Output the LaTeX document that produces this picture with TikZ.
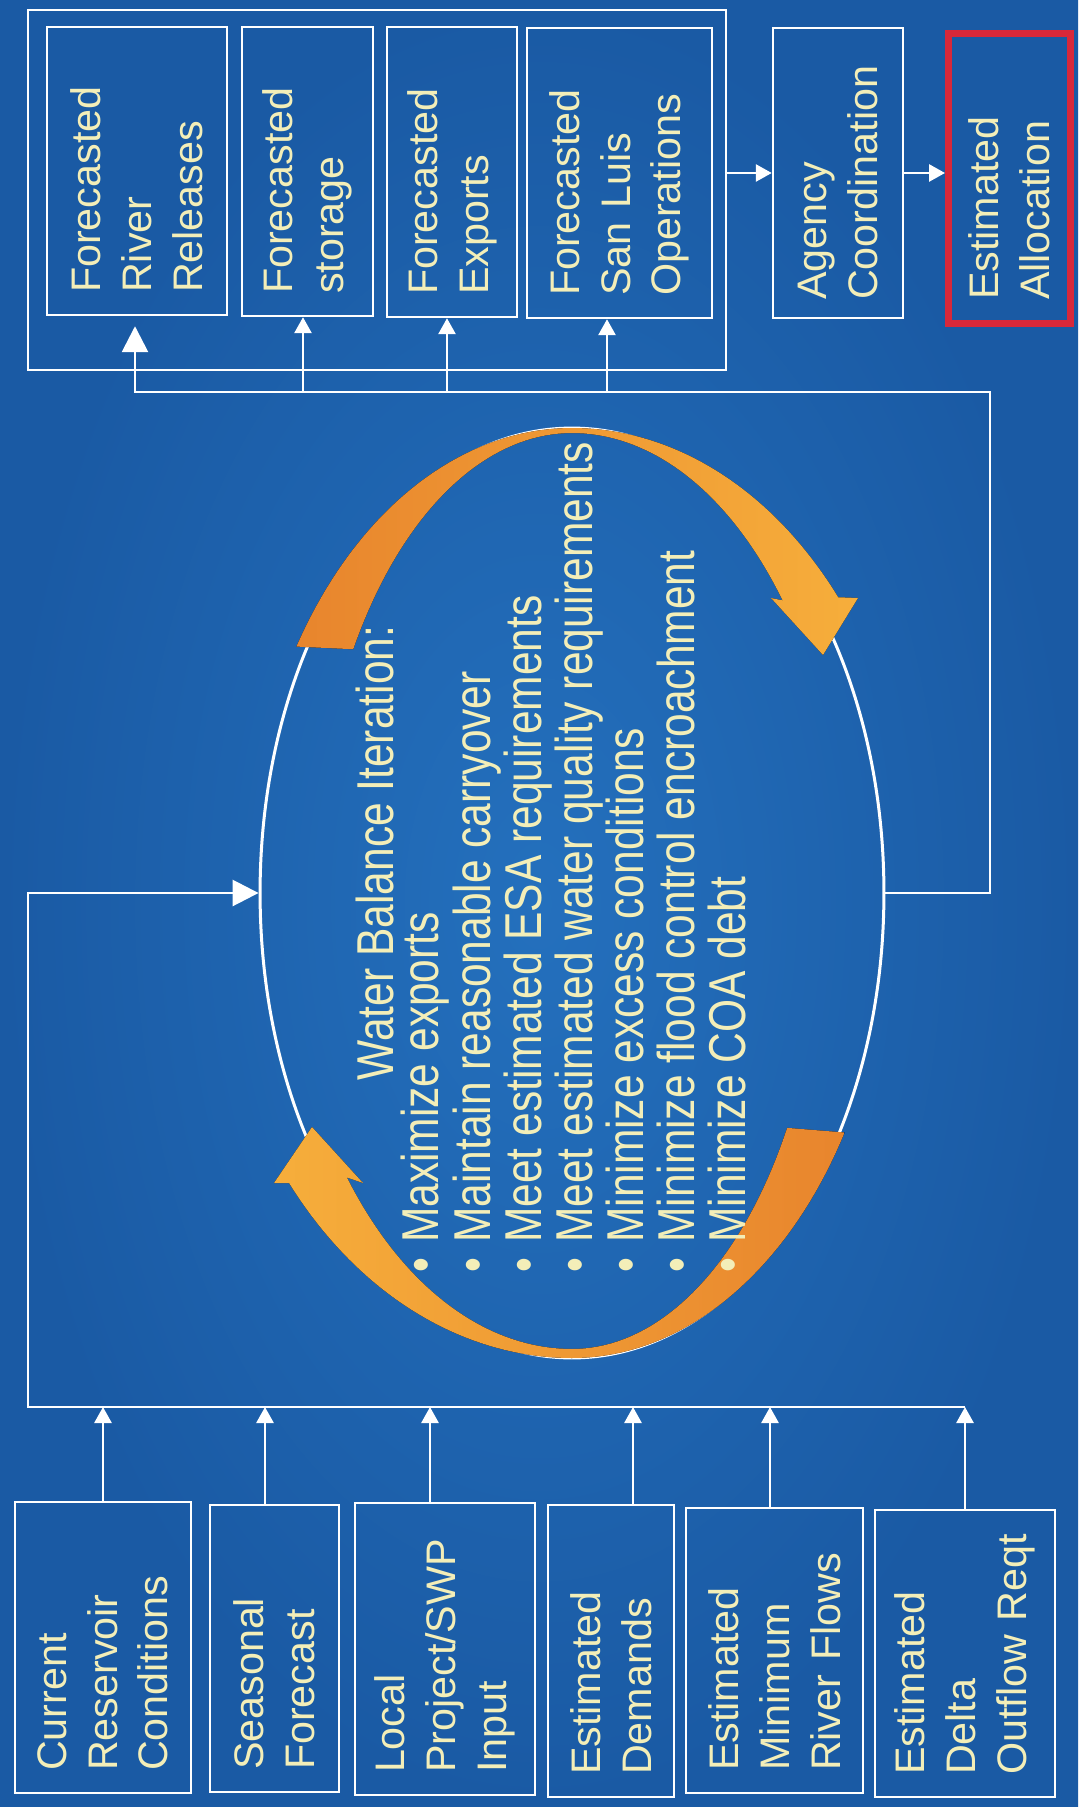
\documentclass[tikz,border=0pt]{standalone}
\usepackage{fontspec}
\setmainfont{Liberation Sans}
\newfontfamily\narrowfont[FakeStretch=0.82]{Liberation Sans}
\usetikzlibrary{arrows.meta,shapes.geometric,calc}
\definecolor{bgin}{HTML}{2470BD}
\definecolor{bgout}{HTML}{1A5AA4}
\definecolor{txt}{HTML}{F3EEB8}
\definecolor{redc}{HTML}{D8283A}
\definecolor{orA}{HTML}{E8852D}
\definecolor{orB}{HTML}{F6AE3B}
\tikzset{
  wline/.style={draw=white, line width=0.055cm},
  smallarr/.style={-{Triangle[width=0.34cm,length=0.32cm]}},
  bigarr/.style={-{Triangle[width=0.52cm,length=0.52cm]}},
  fbox/.style={draw=white, line width=0.05cm, rotate=90, align=left, text=txt,
    font=\fontsize{23.5}{28.9}\selectfont, inner ysep=0pt, inner xsep=0.44cm},
  elltext/.style={rotate=90, inner sep=0pt, text=txt,
    font=\narrowfont\fontsize{29.5}{29.1}\selectfont},
}
\begin{document}
\begin{tikzpicture}[x=0.02cm, y=-0.02cm]
\useasboundingbox (0,0) rectangle (1078,1807);
\shade[inner color=bgin, outer color=bgout] (0,0) rectangle (1078,1807);

% ---------------- top group ----------------
\node[draw=white, line width=0.05cm, minimum width=13.96cm, minimum height=7.2cm, inner sep=0pt] (G) at (377,190) {};
\node[fbox, minimum height=3.6cm, text width=4.88cm] (T1) at (137,171) {Forecasted\\River\\Releases};
\node[fbox, minimum height=2.62cm, text width=4.9cm] (T2) at (307.5,171.5) {Forecasted\\storage};
\node[fbox, minimum height=2.6cm, text width=4.92cm] (T3) at (452,172) {Forecasted\\Exports};
\node[fbox, minimum height=3.7cm, text width=4.92cm] (T4) at (619.5,173) {Forecasted\\San~Luis\\Operations};
\node[fbox, minimum height=2.6cm, inner xsep=0.36cm, text width=5.08cm] (A) at (838,173) {Agency\\Coordination};
\node[fbox, draw=redc, line width=0.14cm, minimum height=2.44cm, inner xsep=0.47cm, text width=4.86cm] (R) at (1009.5,178.5) {Estimated\\Allocation};

\draw[wline, smallarr] (G.east |- A.north) -- (A.north);
\draw[wline, smallarr] (A.south) -- (A.south -| R.north);

% ---------------- bottom inputs ----------------
\node[fbox, minimum height=3.52cm, text width=4.94cm] (B1) at (103,1647.5) {Current\\Reservoir\\Conditions};
\node[fbox, minimum height=2.58cm, text width=4.86cm] (B2) at (274.5,1648.5) {Seasonal\\Forecast};
\node[fbox, minimum height=3.6cm, text width=4.96cm] (B3) at (445,1649) {Local\\Project/SWP\\Input};
\node[fbox, minimum height=2.52cm, text width=4.96cm] (B4) at (611,1651) {Estimated\\Demands};
\node[fbox, minimum height=3.54cm, text width=4.82cm] (B5) at (774.5,1650.5) {Estimated\\Minimum\\River~Flows};
\node[fbox, minimum height=3.6cm, text width=4.86cm] (B6) at (965,1653.5) {Estimated\\Delta\\Outflow~Reqt};

% ---------------- central iteration ----------------
\node[ellipse, draw=white, line width=0.06cm, minimum width=12.48cm, minimum height=18.6cm, inner sep=0pt] (ell) at (572,893) {};

\fill[left color=orA, right color=orB]
  plot[domain=148:90, samples=40] ({572+325*cos(\x)},{893-465*sin(\x)})
  -- plot[domain=90:39.5, samples=40] ({572+345*cos(\x)},{893-465*sin(\x)})
  -- (858,598) -- (823,655) -- (771,598)
  -- plot[domain=39.5:90, samples=40] ({572+273*cos(\x)},{893-460*sin(\x)})
  -- plot[domain=90:148, samples=40] ({572+258*cos(\x)},{893-460*sin(\x)})
  -- cycle;

\fill[left color=orB, right color=orA]
  plot[domain=-31:-90, samples=40] ({572+318*cos(\x)},{893-465*sin(\x)})
  -- plot[domain=-90:-141.4, samples=40] ({572+362*cos(\x)},{893-465*sin(\x)})
  -- (274,1183) -- (312,1127) -- (363,1183)
  -- plot[domain=-141.4:-90, samples=40] ({572+288*cos(\x)},{893-456*sin(\x)})
  -- plot[domain=-90:-31, samples=40] ({572+251*cos(\x)},{893-456*sin(\x)})
  -- cycle;

\node[elltext, anchor=north] (title) at (356,853) {Water Balance Iteration:};
\node[elltext, anchor=north west, align=left] (goals) at (401,1273)
  {•\hspace{0.3cm}Maximize exports\\
   •\hspace{0.3cm}Maintain reasonable carryover\\
   •\hspace{0.3cm}Meet estimated ESA requirements\\
   •\hspace{0.3cm}Meet estimated water quality requirements\\
   •\hspace{0.3cm}Minimize excess conditions\\
   •\hspace{0.3cm}Minimize flood control encroachment\\
   •\hspace{0.3cm}Minimize COA debt};

% ---------------- connectors ----------------
\coordinate (tr) at (990,392);
\coordinate (t1) at (135,392);
\coordinate (t2) at (303,392);
\coordinate (t3) at (447,392);
\coordinate (t4) at (607,392);
\draw[wline, bigarr, shorten >=0.2cm] (ell.east) -- (ell.east -| tr) -- (tr) -- (t1) -- (t1 |- T1.west);
\draw[wline, smallarr] (t2) -- (t2 |- T2.west);
\draw[wline, smallarr] (t3) -- (t3 |- T3.west);
\draw[wline, smallarr] (t4) -- (t4 |- T4.west);

\coordinate (bl) at (28,1407);
\coordinate (b1) at (103,1407);
\coordinate (b2) at (265,1407);
\coordinate (b3) at (430,1407);
\coordinate (b4) at (633,1407);
\coordinate (b5) at (770,1407);
\coordinate (b6) at (965,1407);
\draw[wline, bigarr] (b6) -- (bl) -- (bl |- ell.west) -- (ell.west);
\draw[wline, smallarr] (B1.east -| b1) -- (b1);
\draw[wline, smallarr] (B2.east -| b2) -- (b2);
\draw[wline, smallarr] (B3.east -| b3) -- (b3);
\draw[wline, smallarr] (B4.east -| b4) -- (b4);
\draw[wline, smallarr] (B5.east -| b5) -- (b5);
\draw[wline, smallarr] (B6.east -| b6) -- (b6);
\end{tikzpicture}
\end{document}
